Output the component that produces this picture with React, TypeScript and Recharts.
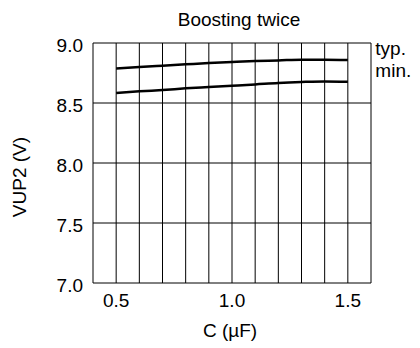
import React from 'react';
import { LineChart, Line, XAxis, YAxis, ReferenceLine, Customized } from 'recharts';

const capacitance = [0.5, 0.6, 0.7, 0.8, 0.9, 1.0, 1.1, 1.2, 1.3, 1.4, 1.5];
const typValues = [8.788, 8.8, 8.811, 8.822, 8.833, 8.842, 8.85, 8.855, 8.861, 8.861, 8.858];
const minValues = [8.583, 8.597, 8.608, 8.622, 8.633, 8.644, 8.655, 8.667, 8.675, 8.68, 8.678];
const xTicks = [0.5, 1.0, 1.5];
const yTicks = [7.0, 7.5, 8.0, 8.5, 9.0];
const gridX = [0.4, 0.5, 0.6, 0.7, 0.8, 0.9, 1.0, 1.1, 1.2, 1.3, 1.4, 1.5, 1.6];
const seriesNames = ['typ.', 'min.'];
const title = 'Boosting twice';
const xLabel = 'C (\u00b5F)';
const yLabel = 'VUP2 (V)';

const data = capacitance.map((c, i) => ({ c, typ: typValues[i], min: minValues[i] }));

const FONT = '"Liberation Sans", Arial, sans-serif';
const FS = 19;

const makeEndLabel = (text: string) => (props: any) => {
  const { x, y, index } = props;
  if (index !== capacitance.length - 1) return null;
  return (
    <text x={x + 27.5} y={y - 5} fontSize={FS} fontFamily={FONT} fill="#000">
      {text}
    </text>
  );
};

const Texts = () => (
  <g fontFamily={FONT} fontSize={FS} fill="#000">
    <text x={239} y={26} textAnchor="middle">{title}</text>
    <text x={230} y={337} textAnchor="middle">{xLabel}</text>
    <text x={25.5} y={177} textAnchor="middle" transform="rotate(-90 25.5 177)">{yLabel}</text>
  </g>
);

export default function App() {
  return (
    <div style={{ position: 'absolute', left: 0, top: 0, width: 420, height: 348, background: '#fff' }}>
      <LineChart width={420} height={348} data={data} margin={{ top: 43, right: 49, bottom: 35, left: 13 }}>
        <XAxis
          dataKey="c"
          type="number"
          domain={[0.4, 1.6]}
          ticks={xTicks}
          axisLine={false}
          tickLine={false}
          tickMargin={5}
          height={30}
          tickFormatter={(v: number) => v.toFixed(1)}
          tick={{ fill: '#000', fontSize: FS, fontFamily: FONT }}
        />
        <YAxis
          type="number"
          domain={[7, 9]}
          ticks={yTicks}
          axisLine={false}
          tickLine={false}
          tickMargin={4}
          width={80}
          tickFormatter={(v: number) => v.toFixed(1)}
          tick={{ fill: '#000', fontSize: FS, fontFamily: FONT, dy: 2 }}
        />
        {gridX.map((v) => (
          <ReferenceLine key={'x' + v} x={v} stroke="#000" strokeWidth={1} />
        ))}
        {yTicks.map((v) => (
          <ReferenceLine key={'y' + v} y={v} stroke="#000" strokeWidth={1} />
        ))}
        <Line dataKey="typ" name={seriesNames[0]} type="monotone" stroke="#000" strokeWidth={2.5} dot={false} isAnimationActive={false} label={makeEndLabel(seriesNames[0])} />
        <Line dataKey="min" name={seriesNames[1]} type="monotone" stroke="#000" strokeWidth={2.5} dot={false} isAnimationActive={false} label={makeEndLabel(seriesNames[1])} />
        <Customized component={Texts} />
      </LineChart>
    </div>
  );
}
